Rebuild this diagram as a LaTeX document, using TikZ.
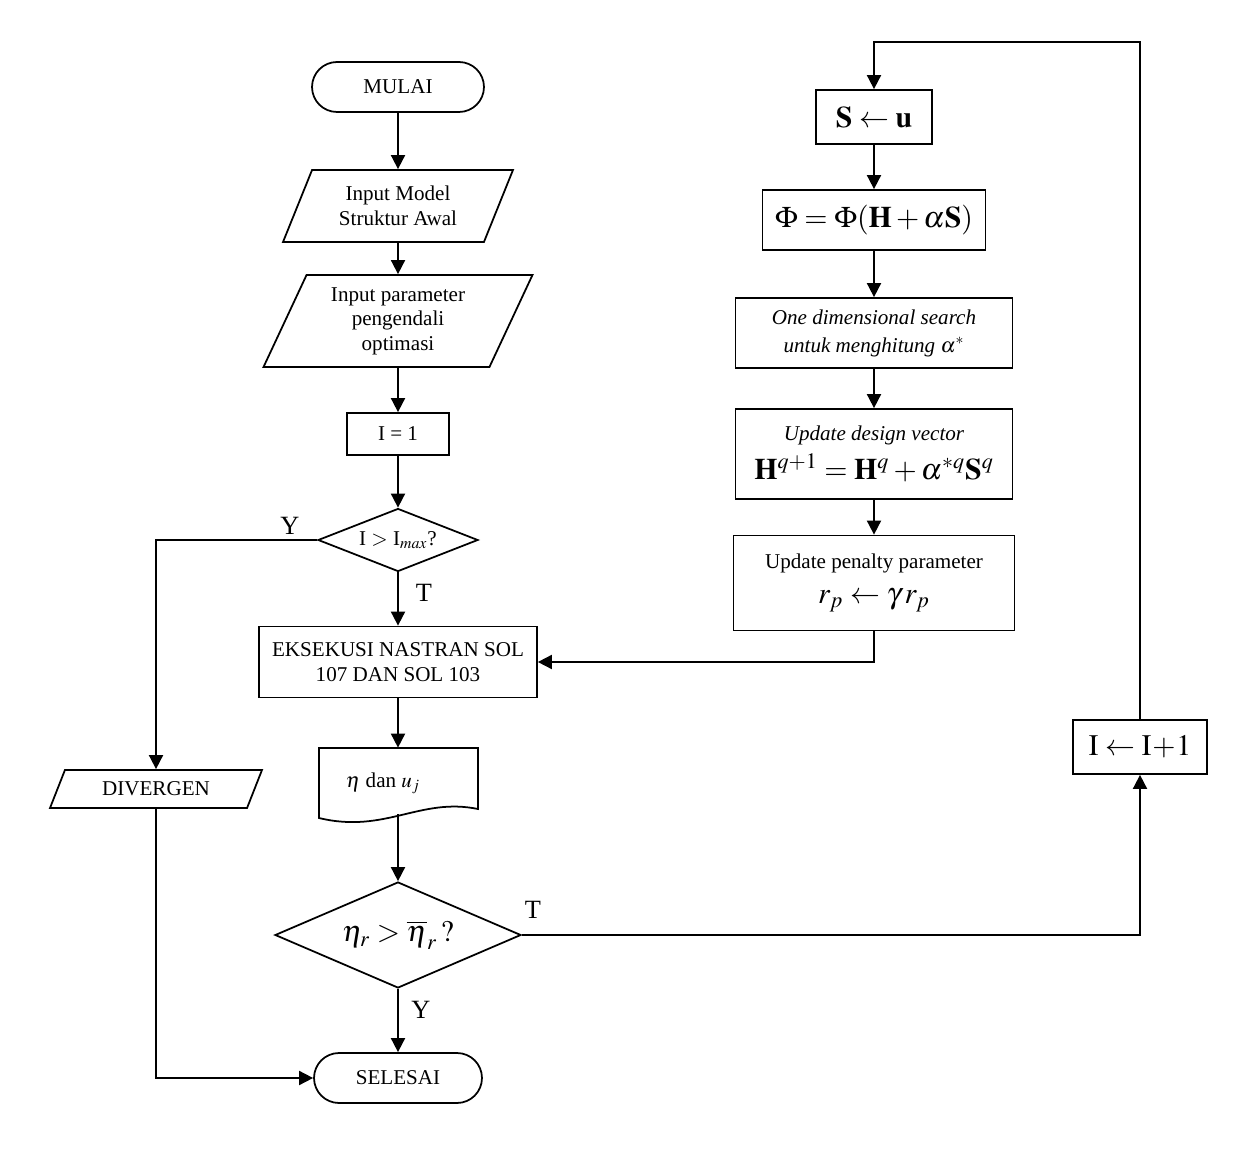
\documentclass[tikz,border=0pt]{standalone}
\usepackage{mathptmx}
\usepackage[no-math]{fontspec}
\setmainfont{Liberation Serif}
\usetikzlibrary{arrows.meta, positioning, calc, shapes.geometric}

\tikzset{
    base/.style={draw, line width=1pt, font=\fontsize{12}{14}\selectfont, align=center, inner sep=2pt},
    terminal/.style={base, rectangle, rounded corners=0.5cm, minimum width=3.44cm, minimum height=1cm},
    io/.style={base, trapezium, trapezium stretches body},
    proses/.style={base, rectangle},
    cek/.style={base, diamond, inner sep=1pt},
    besar/.style={font=\fontsize{17}{20}\selectfont},
    panah/.style={line width=1pt, -{Triangle[length=8pt, width=8pt]}},
    garis/.style={line width=1pt},
    lbl/.style={font=\fontsize{15}{17}\selectfont, inner sep=0pt}
}

\begin{document}
\begin{tikzpicture}[x=0.02cm, y=-0.02cm]
    \useasboundingbox (0,0) rectangle (1248,1152);

    % kolom kiri
    \node[terminal] (mulai) at (398,87) {MULAI};
    \node[io, trapezium left angle=58, trapezium right angle=122,
        minimum width=4.6cm, minimum height=1.44cm] (model) at (398,206) {Input Model\\Struktur Awal};
    \node[io, trapezium left angle=60, trapezium right angle=120,
        minimum width=5.38cm, minimum height=1.84cm] (param) at (398,321) {Input parameter\\pengendali\\optimasi};
    \node[proses, minimum width=2.04cm, minimum height=0.84cm] (awal) at (398,434) {I = 1};
    \node[cek, aspect=2.5, minimum width=3.2cm, minimum height=1.26cm] (cekI) at (398,540) {I $>$ I$_{max}$?};
    \node[proses, minimum width=5.56cm, minimum height=1.42cm] (eksekusi) at (398,662) {EKSEKUSI NASTRAN SOL\\107 DAN SOL 103};

    % dokumen keluaran
    \draw[garis] (319,748) -- (478,748) -- (478,809)
        .. controls (420,797) and (385,834) .. (319,818) -- cycle;
    \node[minimum width=3.18cm, minimum height=1.32cm, inner sep=0pt] (hasil) at (398,781) {};
    \node[font=\fontsize{12}{14}\selectfont] (teksHasil) at (383,783) {$\eta$ dan $u_j$};

    \node[cek, aspect=2.3, minimum width=4.92cm, minimum height=2.12cm] (cekEta) at (398,935)
        {\fontsize{17}{20}\selectfont$\eta_r > \overline{\eta}_r\,?$};
    \node[terminal, minimum width=3.36cm] (selesai) at (398,1078) {SELESAI};
    \node[io, trapezium left angle=55, trapezium right angle=125,
        minimum width=4.24cm, minimum height=0.76cm] (divergen) at (156,789) {DIVERGEN};

    % kolom kanan
    \node[proses, besar, minimum width=2.32cm, minimum height=1.08cm] (arah) at (874,117) {$\mathbf{S}\leftarrow\mathbf{u}$};
    \node[proses, besar, minimum width=4.46cm, minimum height=1.2cm] (fungsi) at (874,220) {$\Phi=\Phi(\mathbf{H}+\alpha\mathbf{S})$};
    \node[proses, minimum width=5.54cm, minimum height=1.4cm] (cari) at (874,333)
        {\itshape One dimensional search\\[2pt]\itshape untuk menghitung $\alpha^{*}$};
    \node[proses, minimum width=5.54cm, minimum height=1.8cm] (desain) at (874,454)
        {\itshape Update design vector\\[4pt]{\fontsize{17}{20}\selectfont$\mathbf{H}^{q+1}=\mathbf{H}^{q}+\alpha^{*q}\mathbf{S}^{q}$}};
    \node[proses, minimum width=5.62cm, minimum height=1.9cm] (penalti) at (874,583)
        {Update penalty parameter\\[6pt]{\fontsize{17}{20}\selectfont$r_p\leftarrow\gamma\,r_p$}};
    \node[proses, besar, minimum width=2.68cm, minimum height=1.08cm] (iterasi) at (1140,747)
        {$\mathrm{I}\leftarrow\mathrm{I}\!+\!1$};
    \coordinate (atas) at (1140,42);

    % label cabang
    \node[lbl] (yaI) at (290,526) {Y};
    \node[lbl] (tidakI) at (424,593) {T};
    \node[lbl] (tidakEta) at (533,910) {T};
    \node[lbl] (yaEta) at (421,1010) {Y};

    % garis alir
    \foreach \a/\b in {mulai/model, model/param, param/awal, awal/cekI, cekI/eksekusi,
        eksekusi/hasil, hasil/cekEta, cekEta/selesai,
        arah/fungsi, fungsi/cari, cari/desain, desain/penalti}
        \draw[panah] (\a.south) -- (\b.north);
    \draw[panah] (cekI.west) -| (divergen.north);
    \draw[panah] (divergen.south) |- (selesai.west);
    \draw[panah] (cekEta.east) -| (iterasi.south);
    \draw[panah] (iterasi.north) -- (atas) -| (arah.north);
    \draw[panah] (penalti.south) |- (eksekusi.east);
\end{tikzpicture}
\end{document}
